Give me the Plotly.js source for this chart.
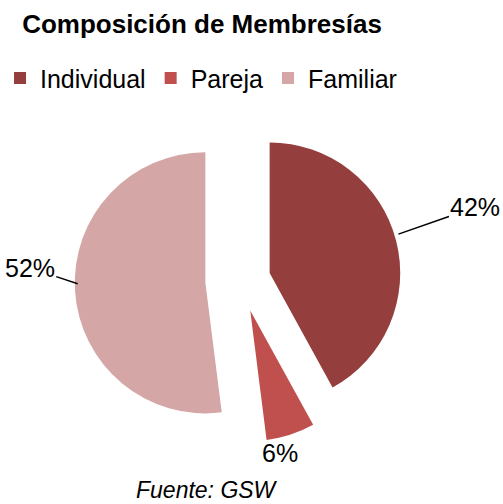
<!DOCTYPE html>
<html>
<head>
<meta charset="utf-8">
<script src="https://cdn.plot.ly/plotly-3.0.1.min.js"></script>
<style>html,body{margin:0;padding:0;background:#fff;}#chart{width:503px;height:504px;}</style>
</head>
<body>
<div id="chart"></div>
<script>
const categories = ["Individual", "Pareja", "Familiar"];
const values = [42, 6, 52];
const colors = ["#943F3D", "#C0504D", "#D4A6A6"];
const pulls = [0.23, 0.24, 0.27];

// label placement (paper coords) for the outside percentage labels
const labelTips = [[0.79, 0.668], [0.553, 0.12], [0.146, 0.545]];
const labelOffsets = [[77, -27], [0, -3], [-48, -16]];
const labelArrows = [true, false, true];

const total = values.reduce((a, b) => a + b, 0);

const trace = {
  type: "pie",
  labels: categories,
  values: values,
  sort: false,
  direction: "clockwise",
  rotation: 0,
  pull: pulls,
  marker: { colors: colors, line: { width: 0 } },
  textinfo: "none",
  hoverinfo: "label+percent",
  domain: { x: [0.140, 0.806], y: [0.138, 0.968] },
  automargin: false
};

const annotations = values.map((v, i) => ({
  text: Math.round(v / total * 100) + "%",
  xref: "paper", yref: "paper",
  x: labelTips[i][0], y: labelTips[i][1],
  ax: labelOffsets[i][0], ay: labelOffsets[i][1],
  showarrow: true,
  arrowhead: 0, arrowwidth: 1.5, arrowcolor: labelArrows[i] ? "#000" : "rgba(0,0,0,0)",
  standoff: 0, startstandoff: 0,
  font: { family: "Liberation Sans, Arial, sans-serif", size: 25, color: "#000" }
}));

annotations.push({
  text: "<i>Fuente: GSW</i>",
  xref: "paper", yref: "paper",
  x: 0.405, y: 0.035, xanchor: "center", yanchor: "middle",
  showarrow: false,
  font: { family: "Liberation Sans, Arial, sans-serif", size: 23, color: "#000" }
});

const layout = {
  width: 503,
  height: 504,
  margin: { l: 0, r: 0, t: 100, b: 0 },
  paper_bgcolor: "#fff",
  font: { family: "Liberation Sans, Arial, sans-serif", color: "#000" },
  title: {
    text: "<b>Composición de Membresías</b>",
    font: { family: "Liberation Sans, Arial, sans-serif", size: 26, color: "#000" },
    x: 0.044, xanchor: "left",
    y: 0.971, yanchor: "top"
  },
  showlegend: true,
  legend: {
    orientation: "h",
    x: -0.01, xanchor: "left",
    y: 1.054, yanchor: "middle",
    font: { family: "Liberation Sans, Arial, sans-serif", size: 25, color: "#000" },
    itemclick: false,
    traceorder: "normal"
  },
  annotations: annotations
};

Plotly.newPlot("chart", [trace], layout, { displayModeBar: false, staticPlot: true });
</script>
</body>
</html>
